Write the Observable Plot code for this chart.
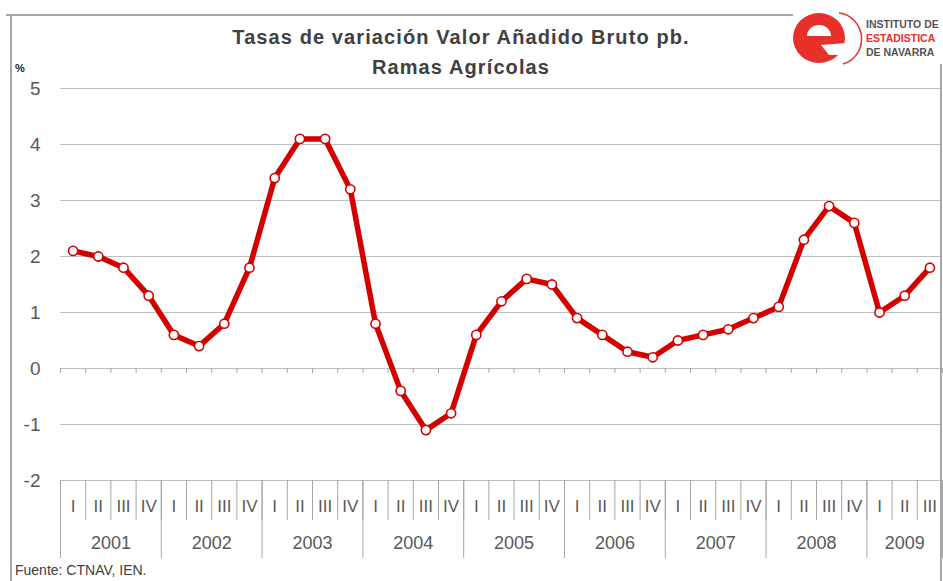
<!DOCTYPE html>
<html>
<head>
<meta charset="utf-8">
<script src="https://cdn.jsdelivr.net/npm/d3@7"></script>
<script src="https://cdn.jsdelivr.net/npm/@observablehq/plot@0.6"></script>
<style>
  html, body { margin: 0; padding: 0; background: #fff; }
  #wrap { position: relative; width: 943px; height: 581px; overflow: hidden; background: #fff;
          font-family: "Liberation Sans", Arial, sans-serif; }
  #chart { position: absolute; left: 0; top: 0; }
  .title { position: absolute; left: 0; width: 922px; text-align: center; font-weight: bold;
           font-size: 20px; color: #404040; line-height: 30px; letter-spacing: 1.1px; }
  .line { position: absolute; background: #a6a6a6; }
  #pct { position: absolute; left: 15px; top: 62px; font-size: 11px; font-weight: bold; color: #222; }
  #foot { position: absolute; left: 15px; top: 561px; font-size: 14px; color: #404040; line-height: 18px; }
  #logo { position: absolute; left: 785px; top: 8px; }
  .logotext { position: absolute; left: 866px; font-size: 10.5px; font-weight: bold; color: #555;
              line-height: 14px; white-space: nowrap; letter-spacing: 0px; }
</style>
</head>
<body>
<div id="wrap">
  <div id="chart"></div>
  <div class="line" style="left:6px; top:14px; width:787px; height:2px;"></div>
  <div class="line" style="left:10px; top:14px; width:2px; height:567px;"></div>
  <div class="line" style="left:940px; top:64px; width:2px; height:517px;"></div>
  <div class="title" style="top:22px;">Tasas de variación Valor Añadido Bruto pb.</div>
  <div class="title" style="top:52px;">Ramas Agrícolas</div>
  <div id="pct">%</div>
  <div id="foot">Fuente: CTNAV, IEN.</div>
  <svg id="logo" width="80" height="60" viewBox="0 0 80 60">
    <path d="M 54 5 A 25 26 0 0 1 58 56" fill="none" stroke="#e8302a" stroke-width="1.5"/>
    <path fill="#e8302a" fill-rule="evenodd"
      d="M 8 30 A 26 25 0 1 0 60 30 A 26 25 0 1 0 8 30 Z M 22 28 A 12 11 0 0 1 46 28 Z"/>
    <path fill="#fff" d="M 36 37 L 61 35 L 61 47 L 44 47 Z"/>
  </svg>
  <div class="logotext" style="top:17px;">INSTITUTO DE</div>
  <div class="logotext" style="top:31px; color:#e8302a;">ESTADISTICA</div>
  <div class="logotext" style="top:45px;">DE NAVARRA</div>
</div>
<script>
const years = ["2001", "2002", "2003", "2004", "2005", "2006", "2007", "2008", "2009"];
const quarterNames = ["I", "II", "III", "IV"];
const values = [
  2.1, 2.0, 1.8, 1.3,
  0.6, 0.4, 0.8, 1.8,
  3.4, 4.1, 4.1, 3.2,
  0.8, -0.4, -1.1, -0.8,
  0.6, 1.2, 1.6, 1.5,
  0.9, 0.6, 0.3, 0.2,
  0.5, 0.6, 0.7, 0.9,
  1.1, 2.3, 2.9, 2.6,
  1.0, 1.3, 1.8
];
const yTicks = [-2, -1, 0, 1, 2, 3, 4, 5];

const data = values.map((v, i) => ({i, v, q: quarterNames[i % 4], year: years[Math.floor(i / 4)]}));
const seps = d3.range(values.length + 1).map(i => i - 0.5);
const yearSeps = seps.filter((s, k) => k % 4 === 0 || k === values.length);
const yearCenters = years.map(y => ({year: y, x: d3.mean(data.filter(d => d.year === y), d => d.i)}));

const red = "#d40000";
const gridColor = "#bfbfbf";
const sepColor = "#a6a6a6";
const labelColor = "#595959";

const chart = Plot.plot({
  width: 943,
  height: 581,
  marginLeft: 60,
  marginRight: 1,
  marginTop: 88,
  marginBottom: 101,
  x: {domain: [-0.5, values.length - 0.5], axis: null},
  y: {domain: [-2, 5], axis: null},
  style: {fontFamily: "Liberation Sans, Arial, sans-serif", background: "transparent", overflow: "visible"},
  marks: [
    Plot.ruleY(yTicks, {y: d => d, stroke: gridColor, strokeWidth: 1.2}),
    Plot.ruleX(seps, {x: d => d, y1: () => 0, y2: () => 0, insetBottom: -5, stroke: sepColor}),
    Plot.ruleX(seps, {x: d => d, y1: () => -2, y2: () => -2, insetBottom: -40, stroke: sepColor}),
    Plot.ruleX(yearSeps, {x: d => d, y1: () => -2, y2: () => -2, insetBottom: -78, stroke: sepColor}),
    Plot.text(yTicks, {x: () => -0.5, y: d => d, text: d => String(d), textAnchor: "end", dx: -20, fontSize: 19, fill: labelColor}),
    Plot.text(data, {x: "i", y: () => -2, text: "q", dy: 26, fontSize: 17, fill: labelColor}),
    Plot.text(yearCenters, {x: "x", y: () => -2, text: "year", dy: 63, fontSize: 18, fill: labelColor}),
    Plot.line(data, {x: "i", y: "v", stroke: red, strokeWidth: 5.5, strokeLinejoin: "round", strokeLinecap: "round"}),
    Plot.dot(data, {x: "i", y: "v", r: 4.6, fill: "white", stroke: red, strokeWidth: 1.6})
  ]
});
document.getElementById("chart").appendChild(chart);
</script>
</body>
</html>
